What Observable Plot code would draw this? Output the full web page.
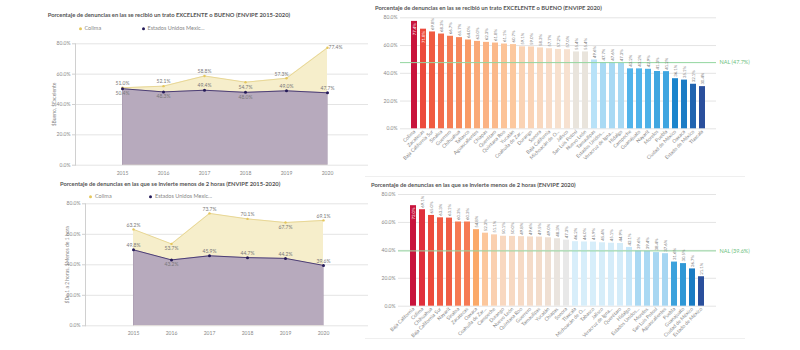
<!DOCTYPE html>
<html>
<head>
<meta charset="utf-8">
<script src="https://cdn.jsdelivr.net/npm/d3@7"></script>
<script src="https://cdn.jsdelivr.net/npm/@observablehq/plot@0.6"></script>
<style>
  html, body { margin: 0; padding: 0; background: #fff; }
  #root { position: relative; width: 800px; height: 350px; overflow: hidden; font-family: Lato, "Open Sans", sans-serif; }
  .panel { position: absolute; }
  .title { position: absolute; font-weight: bold; font-size: 5.8px; color: #555; white-space: nowrap; line-height: 1; transform: translateY(-50%); }
  .legend { position: absolute; font-size: 5.5px; color: #888; white-space: nowrap; line-height: 1; transform: translateY(-50%); }
  .sw { display: inline-block; width: 3px; height: 3px; border-radius: 50%; margin-right: 3px; vertical-align: middle; }
  .sep { position: absolute; height: 1px; background: #efefef; }
</style>
</head>
<body>
<div id="root"></div>
<script>
// ---------- DATA ----------
const years = ["2015", "2016", "2017", "2018", "2019", "2020"];
const colimaTrato = [51.0, 52.1, 58.8, 54.7, 57.3, 77.4];
const nacionalTrato = [50.4, 48.3, 49.4, 48.0, 49.0, 47.7];
const colimaTiempo = [63.2, 53.7, 73.7, 70.1, 67.7, 69.1];
const nacionalTiempo = [49.8, 43.2, 45.9, 44.7, 44.2, 39.6];

const estadosTrato = ["Colima", "Zacatecas", "Baja California Sur", "Sinaloa", "Guerrero", "Chihuahua", "Tabasco", "Aguascalientes", "Chiapas", "Querétaro", "Quintana Roo", "Yucatán", "Coahuila de Zar...", "Durango", "Sonora", "Baja California", "Michoacán de O...", "Jalisco", "San Luis Potosí", "Nuevo León", "Tamaulipas", "Estados Unidos...", "Veracruz de Igna...", "Hidalgo", "Campeche", "Guanajuato", "Nayarit", "Morelos", "Puebla", "Ciudad de México", "Oaxaca", "Estado de México", "Tlaxcala"];
const valoresTrato = [77.4, 71.8, 69.8, 68.3, 66.7, 65.7, 64.0, 63.0, 62.3, 61.8, 61.1, 60.7, 59.1, 59.0, 58.3, 57.7, 57.2, 57.0, 55.4, 55.4, 49.6, 47.7, 47.6, 47.3, 43.2, 43.2, 42.9, 41.3, 41.2, 36.1, 35.1, 32.1, 30.4];
const nalTrato = 47.7;

const estadosTiempo = ["Baja California", "Colima", "Chihuahua", "Baja California Sur", "Nayarit", "Sinaloa", "Zacatecas", "Oaxaca", "Coahuila de Zar...", "Campeche", "Durango", "Nuevo León", "Quintana Roo", "Guerrero", "Tamaulipas", "Yucatán", "Chiapas", "Sonora", "Tlaxcala", "Michoacán de O...", "Tabasco", "Jalisco", "Veracruz de Igna...", "Querétaro", "Hidalgo", "Estados Unidos...", "Morelos", "San Luis Potosí", "Aguascalientes", "Puebla", "Guanajuato", "Ciudad de México", "Estado de México"];
const valoresTiempo = [72.0, 69.1, 65.0, 63.3, 63.1, 60.3, 60.3, 54.8, 52.3, 51.1, 50.1, 50.0, 49.8, 49.6, 49.5, 49.0, 48.3, 47.3, 46.2, 46.0, 45.9, 45.4, 45.1, 44.9, 42.1, 39.6, 39.4, 38.4, 37.6, 31.6, 30.5, 26.7, 21.1];
const nalTiempo = 39.6;

const yTicks = [0, 20, 40, 60, 80];

// ---------- LABEL PLACEMENT (layout only) ----------
const colimaTratoPos = ["above", "above", "above", "below", "aboveLeft", "right"];
const nacionalTratoPos = ["below", "below", "above", "below", "above", "above"];
const colimaTiempoPos = ["above", "below", "above", "above", "below", "above"];
const nacionalTiempoPos = ["above", "below", "above", "above", "above", "above"];

const root = document.getElementById("root");
const fmt = d => d.toFixed(1) + "%";
const FONT = "Lato, 'Open Sans', sans-serif";

function addDiv(cls, x, y, html) {
  const el = document.createElement("div");
  el.className = cls;
  el.style.left = x + "px";
  el.style.top = y + "px";
  el.innerHTML = html;
  root.appendChild(el);
  return el;
}
function place(node, x, y) {
  const d = document.createElement("div");
  d.className = "panel";
  d.style.left = x + "px";
  d.style.top = y + "px";
  d.appendChild(node);
  root.appendChild(d);
}

const offsets = {
  above: {dx: 0, dy: -4.5},
  below: {dx: 0, dy: 4.7},
  aboveLeft: {dx: -5, dy: -4},
  right: {dx: 8, dy: 0}
};
function labelMarks(data, key, pos) {
  return Object.keys(offsets).map(p => Plot.text(data.filter((d, i) => pos[i] === p), {
    x: "year", y: key, text: d => fmt(d[key]),
    dx: offsets[p].dx, dy: offsets[p].dy,
    fill: "#777", fontSize: 5
  }));
}

function lineChart(opts) {
  const data = years.map((y, i) => ({year: y, colima: opts.colima[i], nac: opts.nac[i]}));
  return Plot.plot({
    width: 370, height: opts.height,
    marginLeft: opts.ml, marginRight: 2, marginTop: opts.mt, marginBottom: opts.mb,
    style: {fontFamily: FONT, fontSize: "5px", color: "#888", background: "transparent", overflow: "visible"},
    x: {type: "point", domain: years, range: opts.xr},
    y: {domain: [0, 80]},
    marks: [
      Plot.gridY(yTicks, {stroke: "#e4e4e4", strokeOpacity: 1}),
      Plot.areaY(data, {x: "year", y: "colima", fill: "#f6eecb"}),
      Plot.lineY(data, {x: "year", y: "colima", stroke: "#e8d796", strokeWidth: 1}),
      Plot.areaY(data, {x: "year", y: "nac", fill: "#b7aabd"}),
      Plot.lineY(data, {x: "year", y: "nac", stroke: "#4d3f75", strokeWidth: 1}),
      Plot.ruleX([years[0], years[years.length - 1]], {y1: 0, y2: d => data.find(r => r.year === d).nac, stroke: "#a898ae", strokeWidth: 0.6}),
      Plot.dot(data, {x: "year", y: "colima", r: 1.2, fill: "#e5c75c"}),
      Plot.dot(data, {x: "year", y: "nac", r: 1.5, fill: "#241a58"}),
      ...labelMarks(data, "colima", opts.cpos),
      ...labelMarks(data, "nac", opts.npos),
      Plot.frame({anchor: "left", stroke: "#d0d0d0"}),
      Plot.axisY(yTicks, {tickFormat: fmt, tickSize: 3, tickPadding: 2, stroke: "#d0d0d0",
        label: opts.ylabel, labelAnchor: "center", labelArrow: "none", labelOffset: opts.lo, fill: "#888"}),
      Plot.axisX({tickSize: 0, tickPadding: 6, label: null, fill: "#888"})
    ]
  });
}

function barChart(opts) {
  const data = opts.estados.map((e, i) => ({estado: e, valor: opts.valores[i]}));
  return Plot.plot({
    width: 435, height: opts.height,
    marginLeft: opts.ml, marginRight: opts.mr, marginTop: opts.mt, marginBottom: opts.mb,
    style: {fontFamily: FONT, fontSize: "5px", color: "#888", background: "transparent", overflow: "visible"},
    x: {domain: opts.estados, padding: 0.3},
    y: {domain: [0, 80]},
    color: {type: "linear", domain: opts.cdomain, range: opts.crange},
    marks: [
      Plot.gridY(yTicks, {stroke: "#e4e4e4", strokeOpacity: 1}),
      Plot.barY(data, {x: "estado", y: "valor", fill: "valor"}),
      Plot.ruleY([opts.nal], {stroke: "#93d69f", strokeWidth: 1}),
      Plot.text([opts.nal], {y: d => d, frameAnchor: "right", dx: 3, textAnchor: "start",
        text: d => `NAL (${d.toFixed(1)}%)`, fill: "#6cc07c", fontSize: 5.5}),
      Plot.text(data.filter(d => d.valor <= 70.5), {x: "estado", y: "valor", text: d => fmt(d.valor),
        rotate: -90, textAnchor: "start", dy: -2, fill: "#777", fontSize: 4.3}),
      Plot.text(data.filter(d => d.valor > 70.5), {x: "estado", y: "valor", text: d => fmt(d.valor),
        rotate: -90, textAnchor: "end", dy: 2, fill: "#fff", fontSize: 4.3}),
      Plot.axisY(yTicks, {tickFormat: fmt, tickSize: 0, tickPadding: 3, label: null, fill: "#888"}),
      Plot.axisX({tickRotate: -45, tickSize: 0, tickPadding: 2, label: null, fill: "#888", fontSize: 5})
    ]
  });
}

// ---------- TOP-LEFT ----------
place(lineChart({
  colima: colimaTrato, nac: nacionalTrato, height: 180,
  ml: 75, mt: 43.3, mb: 15.3, xr: [100.7, 349], lo: 23,
  ylabel: "$Bueno, $Excelente", cpos: colimaTratoPos, npos: nacionalTratoPos
}), 0, 0);
addDiv("title", 47.7, 14.7, "Porcentaje de denuncias en las se recibió un trato EXCELENTE o BUENO (ENVIPE 2015-2020)");
addDiv("legend", 78.5, 28.7, '<span class="sw" style="background:#e5c75c"></span>Colima');
addDiv("legend", 141.5, 28.7, '<span class="sw" style="background:#241a58"></span>Estados Unidos Mexic...');

// ---------- BOTTOM-LEFT ----------
place(lineChart({
  colima: colimaTiempo, nac: nacionalTiempo, height: 165,
  ml: 85, mt: 27.3, mb: 15.7, xr: [111, 344.3], lo: 20,
  ylabel: "$De 1 a 2 horas, $Menos de 1 hora", cpos: colimaTiempoPos, npos: nacionalTiempoPos
}), 0, 176);
addDiv("title", 60, 184.3, "Porcentaje de denuncias en las que se invierte menos de 2 horas (ENVIPE 2015-2020)");
addDiv("legend", 89, 197.3, '<span class="sw" style="background:#e5c75c"></span>Colima');
addDiv("legend", 149, 197.3, '<span class="sw" style="background:#241a58"></span>Estados Unidos Mexic...');

// ---------- TOP-RIGHT ----------
place(barChart({
  estados: estadosTrato, valores: valoresTrato, nal: nalTrato, height: 176,
  ml: 35, mr: 84, mt: 17.3, mb: 47.7,
  cdomain: [30.4, 32.1, 36.1, 41.2, 43.2, 47.3, 49.6, 55.4, 57.0, 60.7, 64.0, 69.8, 71.8, 77.4],
  crange: ["#2a4f9c", "#2064b0", "#1a84cc", "#3fa5e0", "#50b3ea", "#a6d8f3", "#b8e2f8", "#e9e4dc", "#f7e1d0", "#fcc89e", "#f99b66", "#f05a40", "#ec4a3c", "#c8143c"]
}), 365, 0);
addDiv("title", 375, 8.3, "Porcentaje de denuncias en las se recibió un trato EXCELENTE o BUENO (ENVIPE 2020)");

// ---------- BOTTOM-RIGHT ----------
place(barChart({
  estados: estadosTiempo, valores: valoresTiempo, nal: nalTiempo, height: 170,
  ml: 33, mr: 84, mt: 18, mb: 40.3,
  cdomain: [21.1, 26.7, 30.5, 31.6, 37.6, 39.6, 42.1, 44.9, 46.2, 47.3, 48.3, 50.1, 52.3, 54.8, 60.3, 65.0, 69.1, 72.0],
  crange: ["#2a4f9c", "#1a7cc4", "#2f98d6", "#3ca2dc", "#a6d6f2", "#aad9f3", "#c6e6f8", "#d4ecf9", "#d8eefa", "#e8e8e8", "#eae4de", "#f8d8c0", "#fcc79c", "#fba968", "#f67a54", "#ec4a3a", "#e0303c", "#c8143c"]
}), 365, 176);
addDiv("title", 371, 185, "Porcentaje de denuncias en las que se invierte menos de 2 horas (ENVIPE 2020)");

// separators
const s1 = addDiv("sep", 365, 176, ""); s1.style.width = "380px";
const s2 = addDiv("sep", 365, 338, ""); s2.style.width = "380px";
</script>
</body>
</html>
